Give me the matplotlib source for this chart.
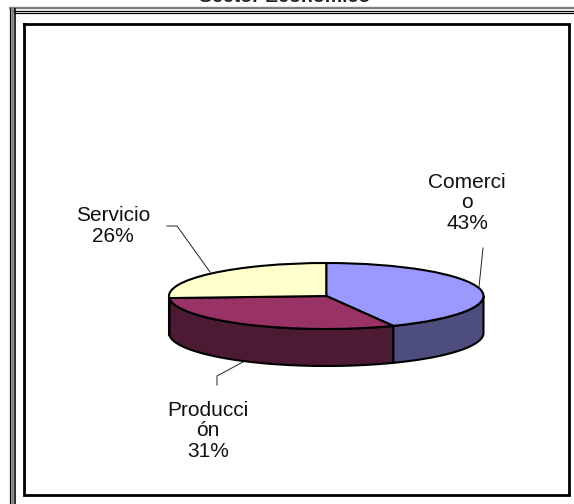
import numpy as np
import matplotlib
matplotlib.use('Agg')
import matplotlib.pyplot as plt

plt.rcParams['font.family'] = ['Liberation Sans', 'DejaVu Sans']

# Data
title = 'Sector Económico'
labels = ['Comerci\no\n43%', 'Producci\nón\n31%', 'Servicio\n26%']
values = [43, 31, 26]
top_colors = ['#9999FF', '#993366', '#FFFFCC']
side_colors = ['#4D4D80', '#4D1A33', '#808066']

W, H = 574, 504
fig = plt.figure(figsize=(W / 100, H / 100), dpi=100, facecolor='white')

# Overlay in pixel coordinates for the frames, leaders and labels
bg = fig.add_axes([0, 0, 1, 1])
bg.set_xlim(0, W)
bg.set_ylim(H, 0)
bg.axis('off')

# Outer frame, cut off by the image on the right and at the bottom
for pos, width, col in [(8, 2.4, '#808080'), (10.5, 1.2, '#000000'), (13.3, 1.2, '#000000')]:
    bg.plot([pos + 1, W], [pos, pos], color=col, lw=width * 0.72, solid_capstyle='butt')
for pos, width, col in [(9.5, 1.2, '#000000'), (11.8, 2.6, '#808080'), (15, 1.6, '#000000')]:
    bg.plot([pos, pos], [8, H], color=col, lw=width * 0.72, solid_capstyle='butt')

# Inner frame
bg.plot([24, 569, 569, 24, 24], [23.5, 23.5, 495, 495, 23.5], color='black', lw=2.0,
        solid_joinstyle='miter')

# Title, almost entirely above the top of the image
bg.text(285, 1.5, title, ha='center', va='baseline', fontsize=14, fontweight='bold',
        color='#222222', clip_on=False)

# Leader lines
bg.plot([167, 177, 210], [226, 226, 272], color='#222222', lw=0.7)
bg.plot([483, 479], [248, 287], color='#222222', lw=0.7)
bg.plot([217, 217, 243], [385, 376, 362], color='#222222', lw=0.7)

# Labels
label_pos = [(467, 203), (208, 431), (113, 226)]
for lab, (lx, ly) in zip(labels, label_pos):
    bg.text(lx, ly, lab, ha='center', va='center', fontsize=15, linespacing=1.09, color='#111111')

# Pie in its own stretched axes: x spans the ellipse, 1 unit in y is ry pixels
left, right, top, bottom = 169, 483.5, 263, 329
depth_px = 37
ry = (bottom - top) / 2
depth = depth_px / ry
ax = fig.add_axes([left / W, 1 - (bottom + depth_px) / H, (right - left) / W,
                   (bottom + depth_px - top) / H])
ax.pie(values, colors=top_colors, startangle=90, counterclock=False, radius=1,
       wedgeprops={'edgecolor': 'black', 'linewidth': 1.5, 'clip_on': False, 'joinstyle': 'round'})
ax.set_aspect('auto')
ax.set_xlim(-1, 1)
ax.set_ylim(-1 - depth, 1)

# Side wall: only the front half of the rim shows (90 to 270 deg clockwise from the top)
edges = np.cumsum([0] + values) / sum(values) * 360
for i in range(len(values)):
    a = max(edges[i], 90)
    b = min(edges[i + 1], 270)
    if b <= a:
        continue
    t = np.radians(np.linspace(a, b, 80))
    x = np.sin(t)
    y = np.cos(t)
    ax.fill(np.r_[x, x[::-1]], np.r_[y, y[::-1] - depth], facecolor=side_colors[i],
            edgecolor='black', linewidth=1.5, zorder=0.5, clip_on=False, joinstyle='round')

fig.savefig('out.png', dpi=100)
